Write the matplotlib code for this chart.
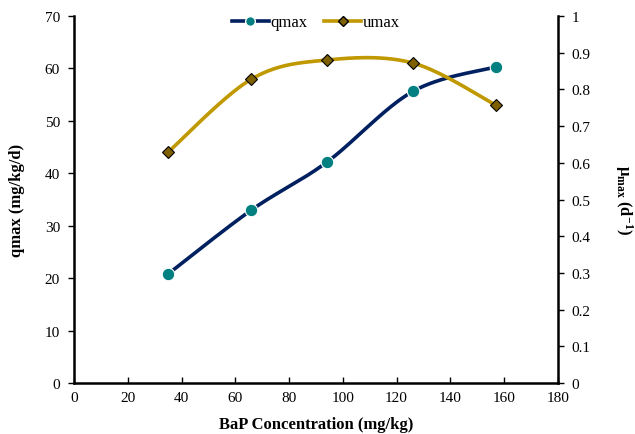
import matplotlib
matplotlib.use('Agg')
import matplotlib.pyplot as plt
import numpy as np

plt.rcParams['font.family'] = ['Liberation Serif', 'DejaVu Serif']
plt.rcParams['mathtext.fontset'] = 'custom'
plt.rcParams['mathtext.rm'] = 'Liberation Serif'
plt.rcParams['mathtext.bf'] = 'Liberation Serif:bold'

bap_conc = [35, 66, 94, 126, 157]
qmax = [20.8, 33.0, 42.1, 55.6, 60.3]
umax = [0.629, 0.828, 0.880, 0.872, 0.757]

Q_LINE = '#002060'
Q_MARK = '#008080'
U_LINE = '#C09800'
U_MARK = '#7F6000'


def smooth(x, y, n=40):
    # Excel-style smoothed line (Catmull-Rom through the points)
    x = np.asarray(x, float)
    y = np.asarray(y, float)
    px = np.concatenate([[x[0]], x, [x[-1]]])
    py = np.concatenate([[y[0]], y, [y[-1]]])
    xs, ys = [], []
    t = np.linspace(0, 1, n)
    for i in range(1, len(px) - 2):
        p0, p1, p2, p3 = (np.array([px[j], py[j]]) for j in range(i - 1, i + 3))
        c1 = p1 + (p2 - p0) / 6
        c2 = p2 - (p3 - p1) / 6
        b = ((1 - t) ** 3)[:, None] * p1 + (3 * (1 - t) ** 2 * t)[:, None] * c1 \
            + (3 * (1 - t) * t ** 2)[:, None] * c2 + (t ** 3)[:, None] * p2
        xs.append(b[:, 0])
        ys.append(b[:, 1])
    return np.concatenate(xs), np.concatenate(ys)


fig = plt.figure(figsize=(6.35, 4.35), dpi=100)
ax = fig.add_axes([0.1165, 0.117, 0.762, 0.844])
ax2 = ax.twinx()

sx, sy = smooth(bap_conc, qmax)
ax.plot(sx, sy, color=Q_LINE, lw=2.6, zorder=2)
ax.plot(bap_conc, qmax, 'o', color=Q_MARK, markeredgecolor='white',
        markeredgewidth=0.8, markersize=9, zorder=3)

ux, uy = smooth(bap_conc, umax)
ax2.plot(ux, uy, color=U_LINE, lw=2.6, zorder=2)
ax2.plot(bap_conc, umax, 'D', color=U_MARK, markeredgecolor='black',
         markeredgewidth=0.8, markersize=6.5, zorder=3)

ax.set_xlim(0, 180)
ax.set_ylim(0, 70)
ax.set_xticks(np.arange(0, 181, 20))
ax.set_yticks(np.arange(0, 71, 10))
ax2.set_ylim(0, 1)
ax2.set_yticks(np.arange(0, 1.01, 0.1))
ax2.set_yticklabels(['0', '0.1', '0.2', '0.3', '0.4', '0.5', '0.6', '0.7', '0.8', '0.9', '1'])

for a in (ax, ax2):
    a.spines['top'].set_visible(False)
    for s in ('left', 'right', 'bottom'):
        a.spines[s].set_linewidth(1.8)
ax.spines['right'].set_visible(False)
ax2.spines['left'].set_visible(False)
ax2.spines['bottom'].set_visible(False)

ax.tick_params(axis='x', direction='in', length=4, width=1, labelsize=11, pad=6)
ax.tick_params(axis='y', direction='out', length=4, width=1, labelsize=11, pad=6)
ax2.tick_params(axis='y', direction='out', length=4, width=1, labelsize=11, pad=6)

ax.set_xlabel('BaP Concentration (mg/kg)', fontsize=12, fontweight='bold', labelpad=8)
ax.set_ylabel('qmax (mg/kg/d)', fontsize=12, fontweight='bold', labelpad=14)
ax2.set_ylabel(r'$\mathbf{\mu_{max}}$ $\mathbf{(d^{-1})}$', fontsize=12,
               rotation=270, labelpad=32)

h1 = plt.Line2D([], [], color=Q_LINE, lw=2.6, marker='o', markerfacecolor=Q_MARK,
                markeredgecolor='white', markersize=7)
h2 = plt.Line2D([], [], color=U_LINE, lw=2.6, marker='D', markerfacecolor=U_MARK,
                markeredgecolor='black', markersize=5.5)
ax.legend([h1, h2], ['qmax', 'umax'], loc='upper center', bbox_to_anchor=(0.5, 1.045),
          ncol=2, frameon=False, fontsize=12, handlelength=2.2, columnspacing=1.0,
          handletextpad=0.1)

plt.savefig('out.png', dpi=100)
plt.close()
